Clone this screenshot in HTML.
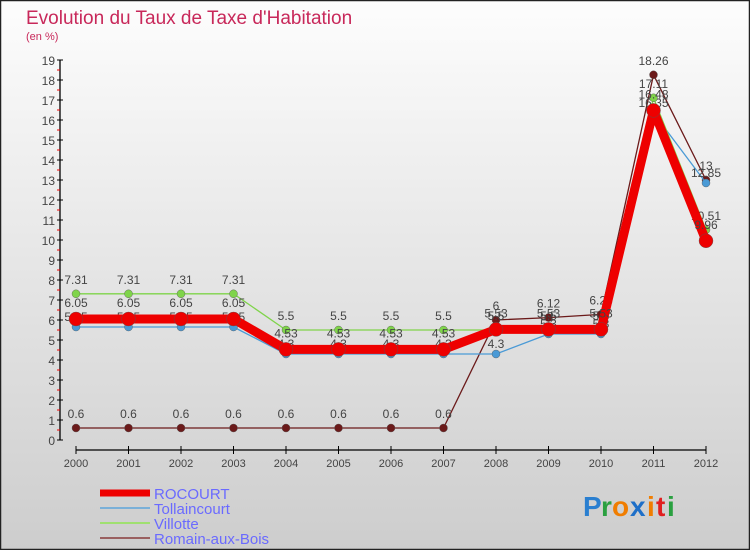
<!DOCTYPE html>
<html><head><meta charset="utf-8"><style>
html,body{margin:0;padding:0}
body{width:750px;height:550px;overflow:hidden;font-family:"Liberation Sans",sans-serif}
</style></head><body>
<svg id="chart" width="750" height="550" xmlns="http://www.w3.org/2000/svg">
<defs><linearGradient id="bg" x1="0" y1="0" x2="0" y2="1"><stop offset="0" stop-color="#fdfdfd"/><stop offset="1" stop-color="#cdcdcd"/></linearGradient></defs>
<rect x="0.5" y="0.5" width="749" height="549" fill="url(#bg)" stroke="#222" stroke-width="1.5"/>
<text x="26" y="24" font-size="19" fill="#c8285a">Evolution du Taux de Taxe d'Habitation</text>
<text x="26" y="40" font-size="11" fill="#c8285a">(en %)</text>
<g id="axes"></g>
<g id="series"></g>
<g id="legend"></g>
<g font-size="28" font-weight="bold" font-family="Liberation Sans,sans-serif">
<text x="583" y="516" fill="#2a7fd0">P</text><text x="601" y="516" fill="#2aa040">r</text><text x="612" y="516" fill="#f07d00">o</text><text x="630" y="516" fill="#1e6fc8">x</text><text x="647" y="516" fill="#f07d00">i</text><text x="656" y="516" fill="#e02020">t</text><text x="667" y="516" fill="#2aa040">i</text>
</g>
</svg>
<script>
const years=[2000,2001,2002,2003,2004,2005,2006,2007,2008,2009,2010,2011,2012];
const yTicks=[0,1,2,3,4,5,6,7,8,9,10,11,12,13,14,15,16,17,18,19];
const rocourt=[6.05,6.05,6.05,6.05,4.53,4.53,4.53,4.53,5.53,5.53,5.53,16.48,9.96];
const tollaincourt=[5.65,5.65,5.65,5.65,4.3,4.3,4.3,4.3,4.3,5.3,5.3,16.35,12.85];
const villotte=[7.31,7.31,7.31,7.31,5.5,5.5,5.5,5.5,5.5,5.5,5.5,17.11,10.51];
const romain=[0.6,0.6,0.6,0.6,0.6,0.6,0.6,0.6,6,6.12,6.28,18.26,13];
const NS="http://www.w3.org/2000/svg";
function xs(i){return 76+i*(706-76)/(years.length-1);}
function ys(v){return 440-v*20;}
function mk(tag,attrs,parent){const e=document.createElementNS(NS,tag);for(const k in attrs)e.setAttribute(k,attrs[k]);parent.appendChild(e);return e;}
const axes=document.getElementById('axes');
let yl=mk('line',{x1:60,y1:ys(0),x2:60,y2:ys(19),stroke:'#000','stroke-width':1.3},axes);


yTicks.forEach(t=>{
 mk('line',{x1:57,x2:63,y1:ys(t),y2:ys(t),stroke:'#000'},axes);
 if(t<19)mk('line',{x1:57,x2:60,y1:ys(t+0.5),y2:ys(t+0.5),stroke:'#e00'},axes);
 const tx=mk('text',{x:55,y:ys(t)+5,'text-anchor':'end','font-size':12,fill:'#444'},axes);
 
 
 tx.textContent=t;
});
let xl=mk('line',{x1:76,y1:450,x2:706,y2:450,stroke:'#000','stroke-width':1.3},axes);


years.forEach((y,i)=>{
 mk('line',{x1:xs(i),x2:xs(i),y1:446,y2:454,stroke:'#000'},axes);
 const tx=mk('text',{x:xs(i),y:467,'text-anchor':'middle','font-size':11,fill:'#444'},axes);
 
 
 tx.textContent=y;
});
const sg=document.getElementById('series');
const defs=[
 {name:'romain-aux-bois',data:romain,color:'#6b1a1a',w:1.3,r:4,dy:-10},
 {name:'tollaincourt',data:tollaincourt,color:'#4a9ad6',w:1.3,r:4,dy:-6},
 {name:'villotte',data:villotte,color:'#7fd44a',w:1.3,r:4,dy:-10},
 {name:'rocourt',data:rocourt,color:'#ee0000',w:9,r:7,dy:-12}
];
defs.forEach(s=>{
 const g=mk('g',{},sg);
 
 
 const pts=s.data.map((v,i)=>xs(i)+','+ys(v)).join(' ');
 const pl=mk('polyline',{points:pts,fill:'none',stroke:s.color,'stroke-width':s.w,'stroke-linejoin':'round'},g);
 
 
 s.data.forEach((v,i)=>{
  const c=mk('circle',{cx:xs(i),cy:ys(v),r:s.r,fill:s.color,stroke:'#555','stroke-width':0.4},g);
  
  
  const t=mk('text',{x:xs(i),y:ys(v)+s.dy,'text-anchor':'middle','font-size':12,fill:'#444'},g);
  
  
  t.textContent=v;
 });
});
const lg=document.getElementById('legend');
const legendItems=[['ROCOURT','#ee0000',7],['Tollaincourt','#7ab0d8',2],['Villotte','#a0e070',2],['Romain-aux-Bois','#9a6060',2]];
legendItems.forEach((it,i)=>{
 const y=493+i*15;
 const l=mk('line',{x1:100,x2:150,y1:y,y2:y,stroke:it[1],'stroke-width':it[2]},lg);
 
 
 const t=mk('text',{x:154,y:y+6,'font-size':15,fill:'#6a6aff'},lg);
 
 
 t.textContent=it[0];
});
</script>
</body></html>
